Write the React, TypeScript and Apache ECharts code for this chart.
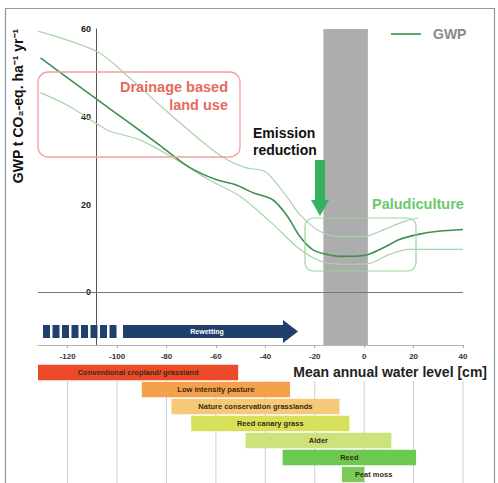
import React, { useEffect, useRef } from "react";
import * as echarts from "echarts";

const xTicks = [-120, -100, -80, -60, -40, -20, 0, 20, 40];
const yTicks = [0, 20, 40, 60];

const meanLevel = [-131, -108, -95, -82, -71, -60, -52, -45, -37, -31, -26, -21, -15, -10, 0, 3, 9, 14, 22, 30, 40];
const meanGwp = [53.4, 43.9, 38.6, 33.2, 28.6, 25.7, 24.5, 22.7, 21.1, 17.3, 12.7, 9.8, 8.6, 8.2, 8.4, 8.9, 10.5, 12, 13.2, 13.9, 14.3];

const upperLevel = [-132, -108, -95, -82, -68, -57, -48, -40, -32, -26, -18, -10, 0, 8, 16, 22];
const upperGwp = [59.5, 54.8, 48.9, 42.3, 35.5, 30.7, 28.4, 27.5, 22.3, 17.7, 13.9, 12.7, 12.7, 14.3, 16.1, 17];

const lowerLevel = [-131, -119, -104, -91, -78, -63, -50, -38, -26, -16, -6, 2, 10, 18, 40];
const lowerGwp = [45.5, 42.3, 37, 34.8, 30.9, 25.7, 21.8, 16.1, 9.8, 6.8, 6.4, 6.6, 8.6, 9.8, 9.8];

const landUseNames = [
  "Conventional cropland/ grassland",
  "Low intensity pasture",
  "Nature conservation grasslands",
  "Reed canary grass",
  "Alder",
  "Reed",
  "Peat moss",
];
const landUseStart = [-132, -90, -78, -70, -48, -33, -9];
const landUseEnd = [-51, -30, -10, -6, 11, 21, 0];
const landUseColors = ["#ec4a2a", "#f5a04a", "#f6c978", "#d6e05a", "#cbe37a", "#6cc850", "#7acb5a"];

const bandRange = [-16.5, 1.5];

const pairs = (xs: number[], ys: number[]) => xs.map((x, i) => [x, ys[i]]);

export default function App() {
  const ref = useRef<HTMLDivElement>(null);
  useEffect(() => {
    if (!ref.current) return;
    const chart = echarts.init(ref.current, null, { renderer: "svg" });
    const font = "Liberation Sans, Arial, sans-serif";

    const blocks: any[] = [];
    for (let i = 0; i < 8; i++) {
      blocks.push({
        type: "rect",
        shape: { x: 43 + i * 9.5, y: 325, width: 7, height: 13 },
        style: { fill: "#1f3f6c" },
        z: 20,
      });
    }

    const option: any = {
      animation: false,
      backgroundColor: "#ffffff",
      textStyle: { fontFamily: font },
      legend: {
        data: [{ name: "GWP", icon: "rect" }],
        left: 386,
        top: 22,
        itemWidth: 30,
        itemHeight: 2,
        itemStyle: { color: "#5aa86a" },
        textStyle: { color: "#8a8a8a", fontSize: 14, fontWeight: "bold", fontFamily: font, padding: [0, 0, 0, 7] },
      },
      grid: [
        { left: 38, right: 35, top: 29, height: 316 },
        { left: 38, right: 35, top: 364, height: 119 },
      ],
      xAxis: [
        {
          type: "value",
          gridIndex: 0,
          min: -132,
          max: 40,
          axisLine: { onZero: false, lineStyle: { color: "#b5b5b5", width: 1 } },
          axisTick: { show: true, customValues: xTicks, length: 3, lineStyle: { color: "#aaa" } },
          axisLabel: { customValues: xTicks, fontSize: 8, fontWeight: "bold", color: "#333", margin: 7 },
          splitLine: { show: false },
        },
        { type: "value", gridIndex: 1, min: -132, max: 40, show: false, splitLine: { show: false } },
      ],
      yAxis: [
        {
          type: "value",
          gridIndex: 0,
          min: -12,
          max: 60,
          position: "left",
          offset: -58,
          axisLine: { show: true, onZero: false, lineStyle: { color: "#555", width: 1 } },
          axisTick: { show: false },
          axisLabel: { customValues: yTicks, fontSize: 9, fontWeight: "bold", color: "#222", margin: 5 },
          splitLine: { show: false },
        },
        {
          type: "category",
          gridIndex: 1,
          inverse: true,
          data: landUseNames,
          show: false,
        },
      ],
      series: [
        {
          name: "upper",
          type: "line",
          xAxisIndex: 0,
          yAxisIndex: 0,
          data: pairs(upperLevel, upperGwp),
          smooth: 0.3,
          showSymbol: false,
          silent: true,
          lineStyle: { color: "#a9d4a9", width: 1.2 },
          z: 2,
        },
        {
          name: "lower",
          type: "line",
          xAxisIndex: 0,
          yAxisIndex: 0,
          data: pairs(lowerLevel, lowerGwp),
          smooth: 0.3,
          showSymbol: false,
          silent: true,
          lineStyle: { color: "#a9d4a9", width: 1.2 },
          z: 2,
        },
        {
          name: "GWP",
          type: "line",
          xAxisIndex: 0,
          yAxisIndex: 0,
          data: pairs(meanLevel, meanGwp),
          smooth: 0.3,
          showSymbol: false,
          symbol: "none",
          lineStyle: { color: "#3f8f50", width: 1.6 },
          itemStyle: { color: "#5aa86a" },
          z: 3,
          markLine: {
            silent: true,
            symbol: "none",
            label: { show: false },
            lineStyle: { color: "#777", width: 1.2, type: "solid" },
            data: [{ yAxis: 0 }],
          },
        },
        {
          name: "band",
          type: "line",
          xAxisIndex: 0,
          yAxisIndex: 0,
          data: [],
          clip: false,
          silent: true,
          z: 5,
          markArea: {
            silent: true,
            itemStyle: { color: "rgba(150,150,150,0.78)" },
            data: [[{ xAxis: bandRange[0], yAxis: -12 }, { xAxis: bandRange[1], yAxis: 61 }]],
          },
        },
        {
          name: "gridlines",
          type: "custom",
          xAxisIndex: 1,
          yAxisIndex: 1,
          silent: true,
          z: 1,
          data: xTicks.map((v) => [v]),
          encode: { x: 0 },
          renderItem: (params: any, api: any) => {
            const p = api.coord([api.value(0), 0]);
            const band = api.size([0, 1])[1];
            const cs = params.coordSys;
            return {
              type: "line",
              shape: { x1: p[0], y1: p[1] + band / 2, x2: p[0], y2: cs.y + cs.height },
              style: { stroke: "#cfcfcf", lineWidth: 1 },
            };
          },
        },
        {
          name: "landuse",
          type: "custom",
          xAxisIndex: 1,
          yAxisIndex: 1,
          silent: true,
          z: 3,
          data: landUseNames.map((n, i) => [landUseStart[i], landUseEnd[i], i]),
          encode: { x: [0, 1], y: 2 },
          renderItem: (params: any, api: any) => {
            const idx = api.value(2);
            const a = api.coord([api.value(0), idx]);
            const b = api.coord([api.value(1), idx]);
            const h = api.size([0, 1])[1] * 0.9;
            const last = idx === landUseNames.length - 1;
            return {
              type: "group",
              children: [
                {
                  type: "rect",
                  shape: { x: a[0], y: a[1] - h / 2, width: b[0] - a[0], height: h },
                  style: { fill: landUseColors[idx] },
                },
                {
                  type: "text",
                  x: last ? a[0] + 13 : (a[0] + b[0]) / 2,
                  y: a[1],
                  style: {
                    text: landUseNames[idx],
                    fill: "#3a2a12",
                    font: `bold 7.5px ${font}`,
                    align: last ? "left" : "center",
                    verticalAlign: "middle",
                  },
                },
              ],
            };
          },
        },
      ],
      graphic: [
        {
          type: "rect",
          shape: { x: 5.5, y: 8.5, width: 489, height: 480 },
          style: { fill: "none", stroke: "#8a9ca4", lineWidth: 1.2 },
          silent: true,
          z: 0,
        },
        {
          type: "text",
          x: 18,
          y: 106,
          rotation: Math.PI / 2,
          style: {
            text: "GWP t CO₂-eq. ha⁻¹ yr⁻¹",
            fill: "#111",
            font: `bold 14px ${font}`,
            align: "center",
            verticalAlign: "middle",
          },
          z: 20,
        },
        {
          type: "rect",
          shape: { x: 38, y: 72, width: 202, height: 85, r: 10 },
          style: { fill: "none", stroke: "#f2a0a0", lineWidth: 1.3 },
          z: 20,
        },
        {
          type: "text",
          x: 228,
          y: 96,
          style: {
            text: "Drainage based\nland use",
            fill: "#e86a5c",
            font: `bold 14.5px ${font}`,
            align: "right",
            verticalAlign: "middle",
            lineHeight: 18,
          },
          z: 20,
        },
        {
          type: "text",
          x: 253,
          y: 141,
          style: {
            text: "Emission\nreduction",
            fill: "#111",
            font: `bold 14px ${font}`,
            align: "left",
            verticalAlign: "middle",
            lineHeight: 17,
          },
          z: 20,
        },
        {
          type: "polygon",
          shape: { points: [[315, 160], [325, 160], [325, 200], [329, 200], [320, 216], [311, 200], [315, 200]] },
          style: { fill: "#35b25c" },
          z: 20,
        },
        {
          type: "text",
          x: 372,
          y: 204,
          style: {
            text: "Paludiculture",
            fill: "#6cc86c",
            font: `bold 14.5px ${font}`,
            align: "left",
            verticalAlign: "middle",
          },
          z: 20,
        },
        {
          type: "rect",
          shape: { x: 305, y: 218, width: 111, height: 53, r: 8 },
          style: { fill: "none", stroke: "#98d898", lineWidth: 1.2 },
          z: 20,
        },
        ...blocks,
        {
          type: "rect",
          shape: { x: 123, y: 325, width: 162, height: 13 },
          style: { fill: "#1f3f6c" },
          z: 20,
        },
        {
          type: "polygon",
          shape: { points: [[283, 320], [298, 331.5], [283, 343]] },
          style: { fill: "#1f3f6c" },
          z: 20,
        },
        {
          type: "text",
          x: 207,
          y: 331.5,
          style: {
            text: "Rewetting",
            fill: "#ffffff",
            font: `bold 7px ${font}`,
            align: "center",
            verticalAlign: "middle",
          },
          z: 21,
        },
        {
          type: "text",
          x: 487,
          y: 372,
          style: {
            text: "Mean annual water level [cm]",
            fill: "#222",
            font: `bold 14px ${font}`,
            align: "right",
            verticalAlign: "middle",
          },
          z: 20,
        },
      ],
    };
    chart.setOption(option);
    return () => chart.dispose();
  }, []);

  return <div ref={ref} style={{ width: 498, height: 483, position: "absolute", left: 0, top: 0 }} />;
}
